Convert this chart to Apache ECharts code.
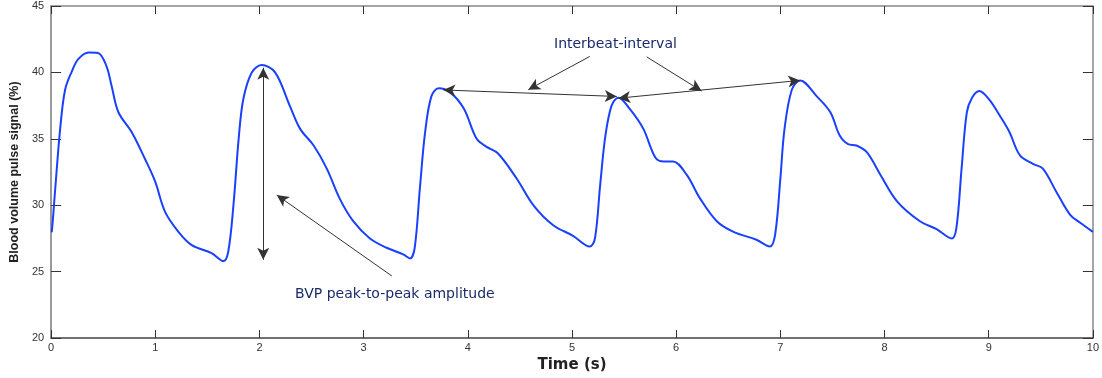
<!DOCTYPE html>
<html>
<head>
<meta charset="utf-8">
<script src="https://cdn.jsdelivr.net/npm/echarts@6/dist/echarts.min.js"></script>
<style>html,body{margin:0;padding:0;background:#fff}#c{width:1102px;height:378px}</style>
</head>
<body>
<div id="c"></div>
<script>
// Time (s)
const times = [0.00,0.007,0.04,0.086,0.134,0.20,0.26,0.36,0.45,0.53,0.58,0.646,0.774,0.90,0.998,1.094,1.222,1.35,1.54,1.654,1.70,1.75,1.80,1.845,1.926,2.02,2.15,2.29,2.39,2.52,2.646,2.77,2.90,3.06,3.22,3.38,3.445,3.49,3.54,3.59,3.65,3.72,3.83,3.96,4.085,4.18,4.29,4.47,4.63,4.82,5.01,5.17,5.22,5.27,5.32,5.38,5.445,5.56,5.685,5.80,5.88,5.97,6.10,6.23,6.39,6.55,6.77,6.90,6.95,7.00,7.04,7.11,7.19,7.35,7.48,7.57,7.65,7.73,7.83,7.96,8.12,8.34,8.50,8.645,8.69,8.74,8.79,8.84,8.91,9.00,9.11,9.20,9.30,9.43,9.52,9.65,9.78,9.875,10.0];
// Blood volume pulse signal (%)
const bvp =   [28.0,28.04,31.3,35.7,38.7,40.1,41.0,41.5,41.47,40.5,39.0,37.0,35.5,33.5,31.8,29.5,28.0,27.0,26.4,25.8,26.5,30.0,35.0,38.0,40.0,40.55,40.0,37.5,35.75,34.5,32.76,30.5,28.8,27.5,26.8,26.3,26.0,26.8,31.3,35.5,38.2,38.8,38.5,37.3,35.0,34.4,33.9,32.0,30.0,28.5,27.7,26.9,27.5,31.5,35.2,37.5,38.1,37.2,35.75,33.6,33.3,33.3,32.3,30.5,28.8,28.0,27.4,26.9,27.8,32.0,35.75,38.7,39.4,38.2,37.0,35.25,34.6,34.5,34.0,32.3,30.3,28.8,28.2,27.5,28.3,32.8,37.0,38.1,38.6,38.0,36.7,35.5,33.75,33.1,32.76,31.0,29.3,28.7,28.0];

const xTicks = [0,1,2,3,4,5,6,7,8,9,10];
const yTicks = [20,25,30,35,40,45];

// Annotation arrows: [startT, startV, endT, endV, startSymbol, endSymbol]
const amplitudeArrow = [2.036, 40.35, 2.036, 25.9, 'arrow', 'arrow'];
const amplitudePointer = [3.27, 24.68, 2.166, 30.77, 'none', 'arrow'];
const ibiArrow1 = [3.765, 38.68, 5.43, 38.19, 'arrow', 'arrow'];
const ibiArrow2 = [5.445, 38.06, 7.19, 39.4, 'arrow', 'arrow'];
const ibiPointer1 = [5.17, 41.2, 4.58, 38.7, 'none', 'arrow'];
const ibiPointer2 = [5.717, 41.17, 6.244, 38.6, 'none', 'arrow'];
const arrows = [amplitudeArrow, amplitudePointer, ibiArrow1, ibiArrow2, ibiPointer1, ibiPointer2];

const amplitudeLabel = 'BVP peak-to-peak amplitude';
const ibiLabel = 'Interbeat-interval';

const data = times.map((t, i) => [t, bvp[i]]);

const chart = echarts.init(document.getElementById('c'), null, {renderer: 'canvas'});
const font = 'Liberation Sans, Arial, sans-serif';
const wideFont = 'DejaVu Sans, Verdana, sans-serif';
const tickLabel = {color: '#333', fontSize: 11, fontFamily: font};

const option = {
  animation: false,
  backgroundColor: '#fff',
  grid: {left: 51, right: 9, top: 6, bottom: 37, containLabel: false},
  xAxis: [{
    type: 'value', min: xTicks[0], max: xTicks[xTicks.length-1], interval: 1,
    name: 'Time (s)', nameLocation: 'middle', nameGap: 13,
    nameTextStyle: {fontSize: 15, fontWeight: 'bold', color: '#222', fontFamily: wideFont},
    axisLine: {show: true, lineStyle: {color: '#444', width: 1.5}},
    axisTick: {show: true, inside: true, length: 8, lineStyle: {color: '#333'}},
    axisLabel: Object.assign({margin: 4}, tickLabel),
    splitLine: {show: false}
  }, {
    type: 'value', position: 'top', min: xTicks[0], max: xTicks[xTicks.length-1], interval: 1,
    axisLine: {show: true, onZero: false, lineStyle: {color: '#888', width: 1.5}},
    axisTick: {show: true, inside: true, length: 8, lineStyle: {color: '#333'}},
    axisLabel: {show: false}, splitLine: {show: false}
  }],
  yAxis: [{
    type: 'value', min: yTicks[0], max: yTicks[yTicks.length-1], interval: 5,
    name: 'Blood volume pulse signal (%)', nameLocation: 'middle', nameGap: 24,
    nameTextStyle: {fontSize: 12.5, fontWeight: 'bold', color: '#222', fontFamily: font},
    axisLine: {show: true, lineStyle: {color: '#777', width: 1.5}},
    axisTick: {show: true, inside: true, length: 10, lineStyle: {color: '#333'}},
    axisLabel: Object.assign({margin: 7}, tickLabel),
    splitLine: {show: false}
  }, {
    type: 'value', position: 'right', min: yTicks[0], max: yTicks[yTicks.length-1], interval: 5,
    axisLine: {show: true, onZero: false, lineStyle: {color: '#888', width: 1.5}},
    axisTick: {show: true, inside: true, length: 10, lineStyle: {color: '#333'}},
    axisLabel: {show: false}, splitLine: {show: false}
  }],
  series: [{
    type: 'line', data: data, smooth: 0.35, showSymbol: false, symbol: 'none',
    lineStyle: {color: '#1a40ff', width: 2},
    markLine: {
      silent: true, animation: false,
      label: {show: false},
      lineStyle: {color: '#333', width: 1, type: 'solid'},
      symbolSize: [9, 12],
      data: arrows.map(a => [
        {coord: [a[0], a[1]], symbol: a[4]},
        {coord: [a[2], a[3]], symbol: a[5]}
      ])
    }
  }],
  graphic: [{
    type: 'text', left: 295, top: 287,
    style: {text: amplitudeLabel, font: '14px ' + wideFont, fill: '#1a2a6c'}
  }, {
    type: 'text', left: 554, top: 37,
    style: {text: ibiLabel, font: '14px ' + wideFont, fill: '#1a2a6c'}
  }]
};
chart.setOption(option);
</script>
</body>
</html>
